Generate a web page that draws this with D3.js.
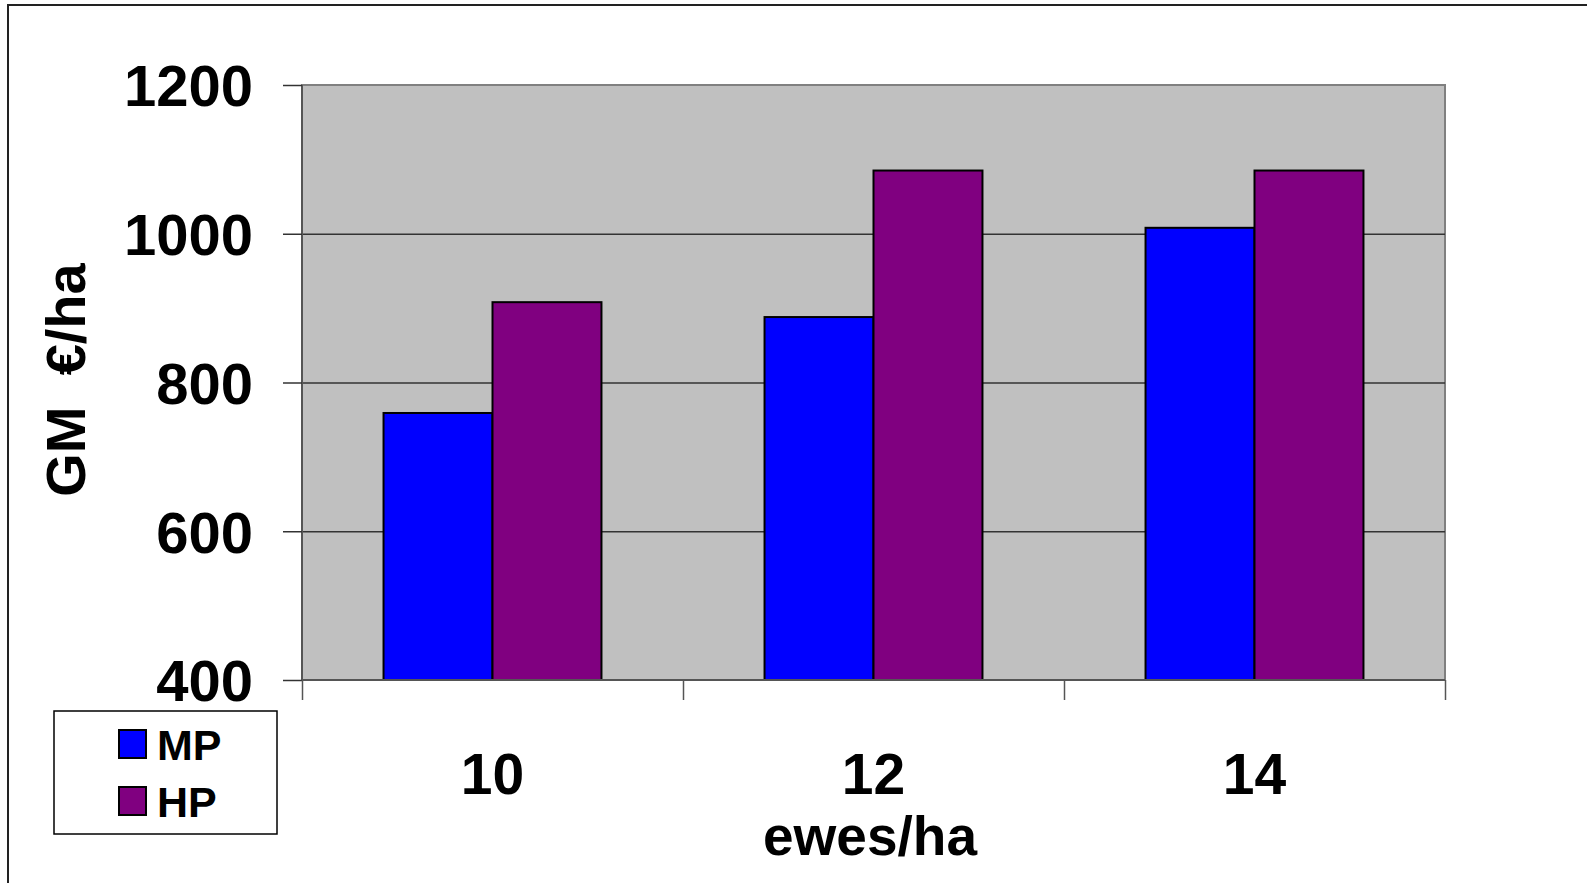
<html>
<head>
    <meta charset="utf-8">
    <script src="https://d3js.org/d3.v7.min.js"></script>
    <style>
        body { margin: 0; background: white; }
        text { font-family: "Liberation Sans", Arial, sans-serif; font-weight: bold; fill: black; }
        .domain { display: none; }
    </style>
</head>
<body>
    <svg id="chart" width="1587" height="883"></svg>
</body>
<script>
    // data
    const categories = ["10", "12", "14"];
    const series = ["MP", "HP"];
    const mpValues = [759, 888, 1008];
    const hpValues = [908, 1085, 1085];
    const yTicks = [400, 600, 800, 1000, 1200];
    const colors = ["#0000ff", "#800080"];

    const svg = d3.select("#chart");
    const plot = { left: 302, right: 1445, top: 85, bottom: 680 };

    // outer frame (top and left only show in the picture)
    svg.append("path")
        .attr("d", "M8,883 L8,5 L1587,5")
        .attr("fill", "none")
        .attr("stroke", "#222")
        .attr("stroke-width", 2);

    const y = d3.scaleLinear().domain([400, 1200]).range([plot.bottom, plot.top]);
    const x0 = d3.scaleBand().domain(categories).range([plot.left, plot.right])
        .paddingInner(0.428).paddingOuter(0.214);
    const x1 = d3.scaleBand().domain(series).range([0, x0.bandwidth()]);
    const xEdges = d3.scaleLinear().domain([0, categories.length]).range([plot.left, plot.right]);

    // plot background
    svg.append("rect")
        .attr("x", plot.left).attr("y", plot.top)
        .attr("width", plot.right - plot.left).attr("height", plot.bottom - plot.top)
        .attr("fill", "#c0c0c0")
        .attr("stroke", "#808080")
        .attr("stroke-width", 2);

    // gridlines
    svg.append("g")
        .attr("transform", "translate(" + plot.left + ",0)")
        .call(d3.axisLeft(y).tickValues([600, 800, 1000]).tickSize(-(plot.right - plot.left)).tickFormat(""))
        .selectAll("line").attr("stroke", "#333").attr("stroke-width", 1.5);

    // bars
    const rows = categories.map((c, i) => ({ cat: c, vals: [mpValues[i], hpValues[i]] }));
    svg.append("g").selectAll("g").data(rows).enter().append("g")
        .attr("transform", d => "translate(" + x0(d.cat) + ",0)")
        .selectAll("rect")
        .data(d => d.vals.map((v, j) => ({ s: series[j], v: v, c: colors[j] })))
        .enter().append("rect")
        .attr("x", d => x1(d.s))
        .attr("y", d => y(d.v))
        .attr("width", x1.bandwidth())
        .attr("height", d => y(400) - y(d.v))
        .attr("fill", d => d.c)
        .attr("stroke", "black")
        .attr("stroke-width", 2);

    // left and bottom axis lines
    svg.append("line")
        .attr("x1", plot.left).attr("x2", plot.left)
        .attr("y1", plot.top).attr("y2", plot.bottom)
        .attr("stroke", "#555").attr("stroke-width", 2);
    svg.append("line")
        .attr("x1", plot.left).attr("x2", plot.right)
        .attr("y1", plot.bottom).attr("y2", plot.bottom)
        .attr("stroke", "#555").attr("stroke-width", 2);

    // y axis
    const yAxis = svg.append("g")
        .attr("transform", "translate(" + plot.left + ",0)")
        .call(d3.axisLeft(y).tickValues(yTicks).tickFormat(d3.format("d")).tickSize(19).tickPadding(30));
    yAxis.selectAll("line").attr("stroke", "#333").attr("stroke-width", 1.5);
    yAxis.selectAll("text").style("font-size", "58px").attr("dy", "0.36em");

    // x axis: tick marks on band edges, labels on band centers
    svg.append("g")
        .attr("transform", "translate(0," + plot.bottom + ")")
        .call(d3.axisBottom(xEdges).tickValues(d3.range(categories.length + 1)).tickSize(20).tickFormat(""))
        .selectAll("line").attr("stroke", "#555").attr("stroke-width", 1.5);

    svg.append("g")
        .attr("transform", "translate(0," + plot.bottom + ")")
        .call(d3.axisBottom(x0).tickSize(0).tickPadding(74))
        .selectAll("text").style("font-size", "57px");

    // axis titles
    svg.append("text")
        .attr("x", 870).attr("y", 855)
        .attr("text-anchor", "middle")
        .style("font-size", "55px")
        .text("ewes/ha");

    svg.append("text")
        .attr("transform", "translate(85,380) rotate(-90)")
        .attr("text-anchor", "middle")
        .style("font-size", "56px")
        .style("white-space", "pre")
        .text("GM  \u20ac/ha");

    // legend
    const legend = svg.append("g");
    legend.append("rect")
        .attr("x", 54).attr("y", 711).attr("width", 223).attr("height", 123)
        .attr("fill", "white").attr("stroke", "black").attr("stroke-width", 1.5);
    const items = legend.selectAll("g.item").data(series).enter().append("g")
        .attr("transform", (d, i) => "translate(0," + (i * 57) + ")");
    items.append("rect")
        .attr("x", 119).attr("y", 730).attr("width", 27).attr("height", 28)
        .attr("fill", (d, i) => colors[i])
        .attr("stroke", "black").attr("stroke-width", 2);
    items.append("text")
        .attr("x", 157).attr("y", 760)
        .style("font-size", "43px")
        .text(d => d);
</script>
</html>
